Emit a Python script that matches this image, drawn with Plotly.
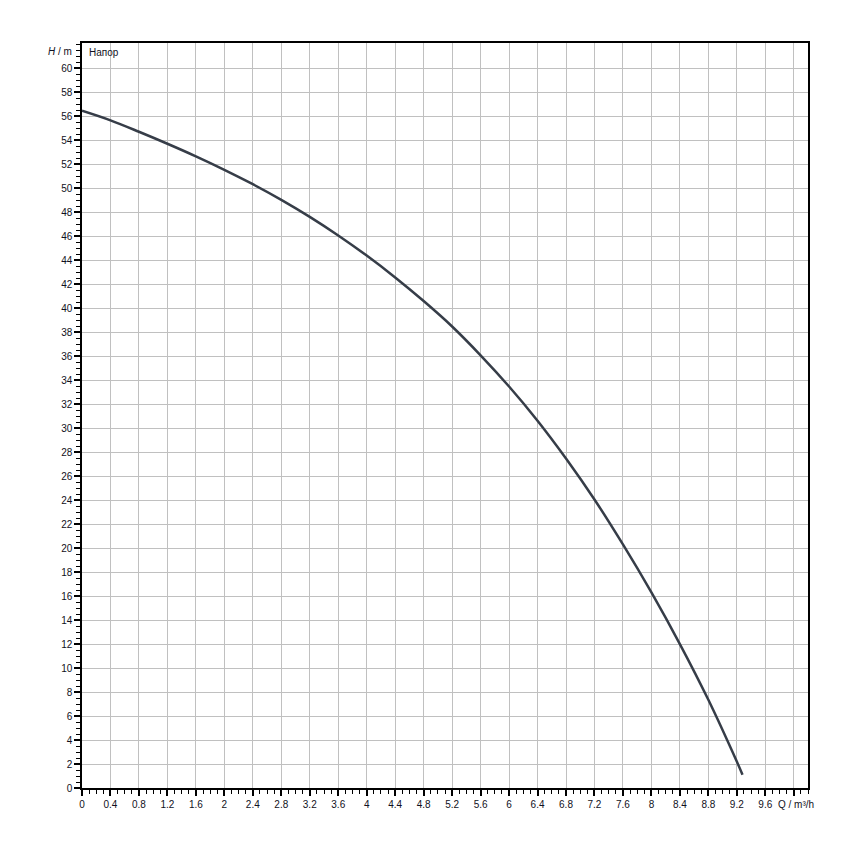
import plotly.graph_objects as go

# Data
flow_q = [0, 0.4, 0.8, 1.2, 1.6, 2.0, 2.4, 2.8, 3.2, 3.6, 4.0, 4.4, 4.8, 5.2,
          5.6, 6.0, 6.4, 6.8, 7.2, 7.6, 8.0, 8.4, 8.8, 9.2, 9.28]
head_h = [56.45, 55.65, 54.7, 53.7, 52.65, 51.53, 50.33, 49.03, 47.61, 46.06,
          44.38, 42.56, 40.59, 38.47, 36.07, 33.47, 30.62, 27.47, 24.05, 20.3,
          16.3, 12.0, 7.35, 2.2, 1.1]

x_tick_vals = [0, 0.4, 0.8, 1.2, 1.6, 2.0, 2.4, 2.8, 3.2, 3.6, 4.0, 4.4, 4.8,
               5.2, 5.6, 6.0, 6.4, 6.8, 7.2, 7.6, 8.0, 8.4, 8.8, 9.2, 9.6, 10.0]
x_tick_text = ["0", "0.4", "0.8", "1.2", "1.6", "2", "2.4", "2.8", "3.2", "3.6",
               "4", "4.4", "4.8", "5.2", "5.6", "6", "6.4", "6.8", "7.2", "7.6",
               "8", "8.4", "8.8", "9.2", "9.6", ""]
y_tick_vals = list(range(0, 62, 2))
y_tick_text = [str(v) for v in y_tick_vals]

series_name = "Напор"
x_label = "Q / m³/h"
y_label = "<i>H</i> / m"

fig = go.Figure()
fig.add_trace(go.Scatter(
    x=flow_q, y=head_h, mode="lines", name=series_name,
    line=dict(color="#363d48", width=2.5, shape="spline", smoothing=1.0),
    showlegend=False,
))

font = dict(family="Liberation Sans, Arial, sans-serif", size=10, color="#111122")

# page body adds an 8px offset; margins compensate so the plot area sits at 82..808 x 43..788
fig.update_layout(
    width=850, height=850,
    margin=dict(l=74, r=50, t=35, b=70),
    paper_bgcolor="white", plot_bgcolor="white",
    font=font,
    xaxis=dict(
        range=[0, 10.2], tickmode="array", tickvals=x_tick_vals, ticktext=x_tick_text,
        showgrid=True, gridcolor="#c0c0c0", gridwidth=1,
        showline=True, linecolor="black", linewidth=1.5, mirror=True,
        ticks="outside", ticklen=6, tickwidth=1.5, tickcolor="black",
        minor=dict(dtick=0.1, tick0=0, ticks="outside", ticklen=4, tickwidth=1,
                   tickcolor="black", showgrid=False),
        zeroline=False, tickfont=font,
    ),
    yaxis=dict(
        range=[0, 62.1], tickmode="array", tickvals=y_tick_vals, ticktext=y_tick_text,
        showgrid=True, gridcolor="#c0c0c0", gridwidth=1,
        showline=True, linecolor="black", linewidth=1.5, mirror=True,
        ticks="outside", ticklen=6, tickwidth=1.5, tickcolor="black",
        minor=dict(dtick=0.5, tick0=0, ticks="outside", ticklen=4, tickwidth=1,
                   tickcolor="black", showgrid=False),
        zeroline=False, tickfont=font,
    ),
    annotations=[
        dict(text=x_label, xref="paper", yref="paper", x=(776 - 82) / 726, y=-0.012,
             xanchor="left", yanchor="top", showarrow=False, font=font),
        dict(text=y_label, xref="paper", yref="paper", x=(74 - 82) / 726, y=1.0 - (51 - 43) / 745,
             xanchor="right", yanchor="middle", showarrow=False, font=font),
        dict(text=series_name, xref="paper", yref="paper", x=(87 - 82) / 726, y=1.0 - (52 - 43) / 745,
             xanchor="left", yanchor="middle", showarrow=False, font=font),
    ],
)

fig.write_html("out.html")
